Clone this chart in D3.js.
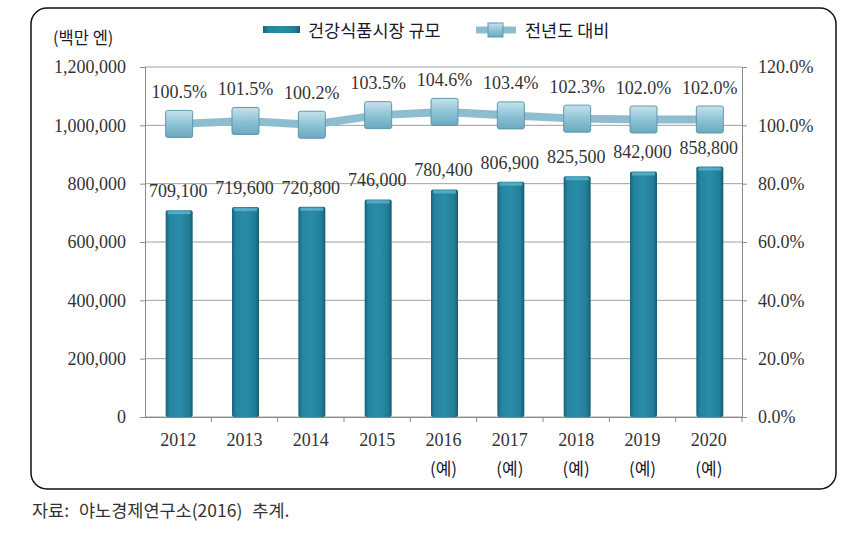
<!DOCTYPE html>
<html><head><meta charset="utf-8">
<script src="https://cdn.jsdelivr.net/npm/d3@7"></script>
<style>body{margin:0;background:#fff}svg{display:block}</style>
</head><body>
<script>
const years = ["2012","2013","2014","2015","2016","2017","2018","2019","2020"];
const subLabels = ["","","","","(예)","(예)","(예)","(예)","(예)"];
const marketSize = [709100,719600,720800,746000,780400,806900,825500,842000,858800];
const yoyRatio = [100.5,101.5,100.2,103.5,104.6,103.4,102.3,102.0,102.0];
const leftTicks = [0,200000,400000,600000,800000,1000000,1200000];
const rightTicks = [0,20,40,60,80,100,120];

const W=859,H=533;
const m={l:145,r:742,t:67,b:417};
const svg=d3.select("body").append("svg").attr("width",W).attr("height",H);
const defs=svg.append("defs");
const bg=defs.append("linearGradient").attr("id","barG").attr("x1","0").attr("x2","1").attr("y1","0").attr("y2","0");
bg.append("stop").attr("offset","0").attr("stop-color","#17647a");
bg.append("stop").attr("offset","0.15").attr("stop-color","#2585a0");
bg.append("stop").attr("offset","0.5").attr("stop-color","#2a8ca8");
bg.append("stop").attr("offset","0.85").attr("stop-color","#237e98");
bg.append("stop").attr("offset","1").attr("stop-color","#165e72");
const mg=defs.append("linearGradient").attr("id","mkG").attr("x1","0").attr("x2","0").attr("y1","0").attr("y2","1");
mg.append("stop").attr("offset","0").attr("stop-color","#c6e2ec");
mg.append("stop").attr("offset","0.5").attr("stop-color","#8fc3d6");
mg.append("stop").attr("offset","1").attr("stop-color","#6aa8bf");

svg.append("rect").attr("x",31).attr("y",8).attr("width",805).attr("height",481).attr("rx",16)
 .attr("fill","#fff").attr("stroke","#111").attr("stroke-width",1.5);

const x=d3.scaleBand().domain(years).range([m.l,m.r]).paddingInner(0).paddingOuter(0);
const yL=d3.scaleLinear().domain([0,1200000]).range([m.b,m.t]);
const yR=d3.scaleLinear().domain([0,120]).range([m.b,m.t]);

svg.append("g").selectAll("line").data(leftTicks).join("line")
 .attr("x1",m.l).attr("x2",m.r).attr("y1",d=>yL(d)).attr("y2",d=>yL(d))
 .attr("stroke","#a0a0a0").attr("stroke-width",1);

const serif="'Liberation Serif','Times New Roman',serif";
const kr="'Noto Sans CJK KR','Noto Sans',sans-serif";
const fs=18;

const gl=svg.append("g").attr("transform",`translate(${m.l},0)`).call(d3.axisLeft(yL).tickValues(leftTicks).tickFormat(d3.format(",")).tickSize(5).tickPadding(14));
gl.selectAll("path,line").attr("stroke","#8a8a8a");
gl.selectAll("text").attr("font-family",serif).attr("font-size",fs).attr("fill","#333");
const gr=svg.append("g").attr("transform",`translate(${m.r},0)`).call(d3.axisRight(yR).tickValues(rightTicks).tickFormat(d=>d.toFixed(1)+"%").tickSize(5).tickPadding(11));
gr.selectAll("path,line").attr("stroke","#8a8a8a");
gr.selectAll("text").attr("font-family",serif).attr("font-size",fs).attr("fill","#333");
const gb=svg.append("g").attr("transform",`translate(0,${m.b})`).call(d3.axisBottom(x).tickSize(0).tickPadding(16));
gb.select("path").attr("stroke","#8a8a8a");
gb.selectAll("text").attr("font-family",serif).attr("font-size",fs).attr("fill","#333");
svg.append("g").selectAll("line").data(years).join("line")
 .attr("x1",(d,i)=>m.l+x.bandwidth()*(i+1)).attr("x2",(d,i)=>m.l+x.bandwidth()*(i+1))
 .attr("y1",m.b).attr("y2",m.b+5).attr("stroke","#8a8a8a");
svg.append("g").selectAll("text").data(subLabels).join("text")
 .attr("x",(d,i)=>x(years[i])+x.bandwidth()/2).attr("y",475).attr("text-anchor","middle")
 .attr("font-family",kr).attr("font-size",17).attr("fill","#1a1a2e").text(d=>d);

const bw=27;
const bars=svg.append("g").selectAll("g").data(marketSize).join("g");
bars.append("rect").attr("x",(d,i)=>x(years[i])+x.bandwidth()/2-bw/2+1).attr("y",d=>yL(d))
 .attr("width",bw).attr("height",d=>m.b-yL(d)).attr("fill","url(#barG)").attr("rx",2);
bars.append("rect").attr("x",(d,i)=>x(years[i])+x.bandwidth()/2-bw/2+3).attr("y",d=>yL(d)+1)
 .attr("width",bw-4).attr("height",3).attr("fill","#5fb4cc").attr("opacity",0.8);
svg.append("g").selectAll("text").data(marketSize).join("text")
 .attr("x",(d,i)=>x(years[i])+x.bandwidth()/2).attr("y",d=>yL(d)-13).attr("text-anchor","middle")
 .attr("font-family",serif).attr("font-size",fs).attr("fill","#333").text(d=>d3.format(",")(d));

const cx=i=>x(years[i])+x.bandwidth()/2+1;
svg.append("path").datum(yoyRatio).attr("fill","none").attr("stroke","#8dbdcf").attr("stroke-width",8)
 .attr("d",d3.line().x((d,i)=>cx(i)).y(d=>yR(d)));
const ms=27;
svg.append("g").selectAll("rect").data(yoyRatio).join("rect")
 .attr("x",(d,i)=>cx(i)-ms/2).attr("y",d=>yR(d)-ms/2).attr("width",ms).attr("height",ms).attr("rx",2)
 .attr("fill","url(#mkG)").attr("stroke","#5f98ad").attr("stroke-width",1);
svg.append("g").selectAll("text").data(yoyRatio).join("text")
 .attr("x",(d,i)=>cx(i)).attr("y",d=>yR(d)-26).attr("text-anchor","middle")
 .attr("font-family",serif).attr("font-size",fs).attr("fill","#333").text(d=>d.toFixed(1)+"%");

svg.append("text").attr("x",53).attr("y",44).attr("font-family",kr).attr("font-size",16.5).attr("fill","#1a1a2e").text("(백만 엔)");

svg.append("rect").attr("x",263).attr("y",26).attr("width",37).attr("height",7).attr("fill","url(#barG)");
svg.append("text").attr("x",308).attr("y",37).attr("font-family",kr).attr("font-size",17.5).attr("fill","#1a1a2e").text("건강식품시장 규모");
svg.append("line").attr("x1",476).attr("x2",516).attr("y1",30).attr("y2",30).attr("stroke","#8dbdcf").attr("stroke-width",7);
svg.append("rect").attr("x",488).attr("y",23).attr("width",15).attr("height",14).attr("fill","url(#mkG)").attr("stroke","#5f98ad");
svg.append("text").attr("x",525).attr("y",37).attr("font-family",kr).attr("font-size",17.5).attr("fill","#1a1a2e").text("전년도 대비");

svg.append("text").attr("x",32).attr("y",517).attr("font-family",kr).attr("font-size",17.5).attr("word-spacing",6).attr("fill","#333").text("자료: 야노경제연구소(2016) 추계.");
</script>
</body></html>
